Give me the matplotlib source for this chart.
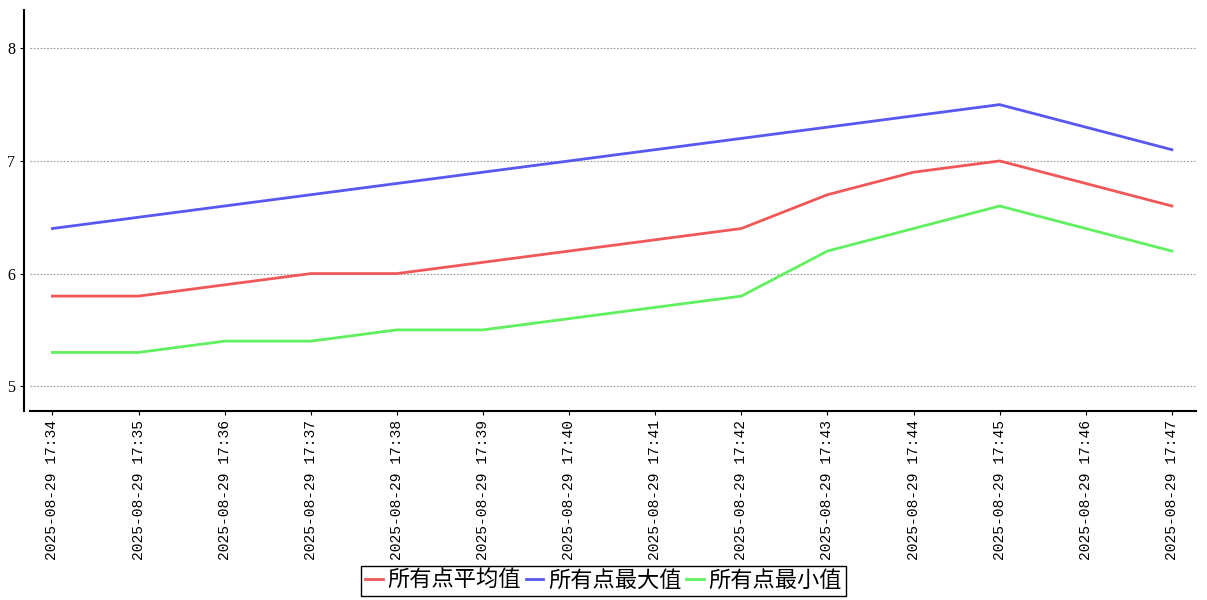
import matplotlib
matplotlib.use("Agg")
import matplotlib.pyplot as plt

plt.rcParams["font.family"] = ["Liberation Serif", "Noto Sans CJK SC", "DejaVu Sans"]

times = ["2025-08-29 17:%02d" % m for m in range(34, 48)]
avg_vals = [5.8, 5.8, 5.9, 6.0, 6.0, 6.1, 6.2, 6.3, 6.4, 6.7, 6.9, 7.0, 6.8, 6.6]
max_vals = [6.4, 6.5, 6.6, 6.7, 6.8, 6.9, 7.0, 7.1, 7.2, 7.3, 7.4, 7.5, 7.3, 7.1]
min_vals = [5.3, 5.3, 5.4, 5.4, 5.5, 5.5, 5.6, 5.7, 5.8, 6.2, 6.4, 6.6, 6.4, 6.2]
labels = ["所有点平均值", "所有点最大值", "所有点最小值"]
colors = ["#f05858", "#5858f0", "#60f060"]

fig = plt.figure(figsize=(12.07, 6), dpi=100)
ax = fig.add_axes([30 / 1207, 1 - 411 / 600, 1166 / 1207, 401 / 600])

x = list(range(len(times)))
for vals, lab, col in zip([avg_vals, max_vals, min_vals], labels, colors):
    ax.plot(x, vals, color=col, lw=2.0, label=lab)

ax.set_xlim(-0.26, 13.28)
ax.set_ylim(4.78, 8.34)
ax.set_yticks([5, 6, 7, 8])
ax.set_xticks(x)
ax.set_xticklabels(times, rotation=90, fontsize=10.5,
                   family=["Liberation Mono", "DejaVu Sans Mono"])
ax.tick_params(axis="y", labelsize=11.5, length=3)
ax.tick_params(axis="x", length=3)
ax.grid(axis="y", color="#999999", linestyle=(0, (1.5, 1.5)), linewidth=0.8)

ax.spines["top"].set_visible(False)
ax.spines["right"].set_visible(False)
ax.spines["left"].set_position(("outward", 4))
ax.spines["left"].set_linewidth(1.5)
ax.spines["bottom"].set_linewidth(1.5)

leg = fig.legend(loc="lower center", bbox_to_anchor=(0.5, -0.012), ncol=3,
                 fontsize=16, handlelength=0.8, handletextpad=0.2,
                 columnspacing=0.2, fancybox=False, borderpad=0.2,
                 framealpha=1)
leg.get_frame().set_edgecolor("black")
leg.get_frame().set_linewidth(1.0)

fig.savefig("out.png", dpi=100)
